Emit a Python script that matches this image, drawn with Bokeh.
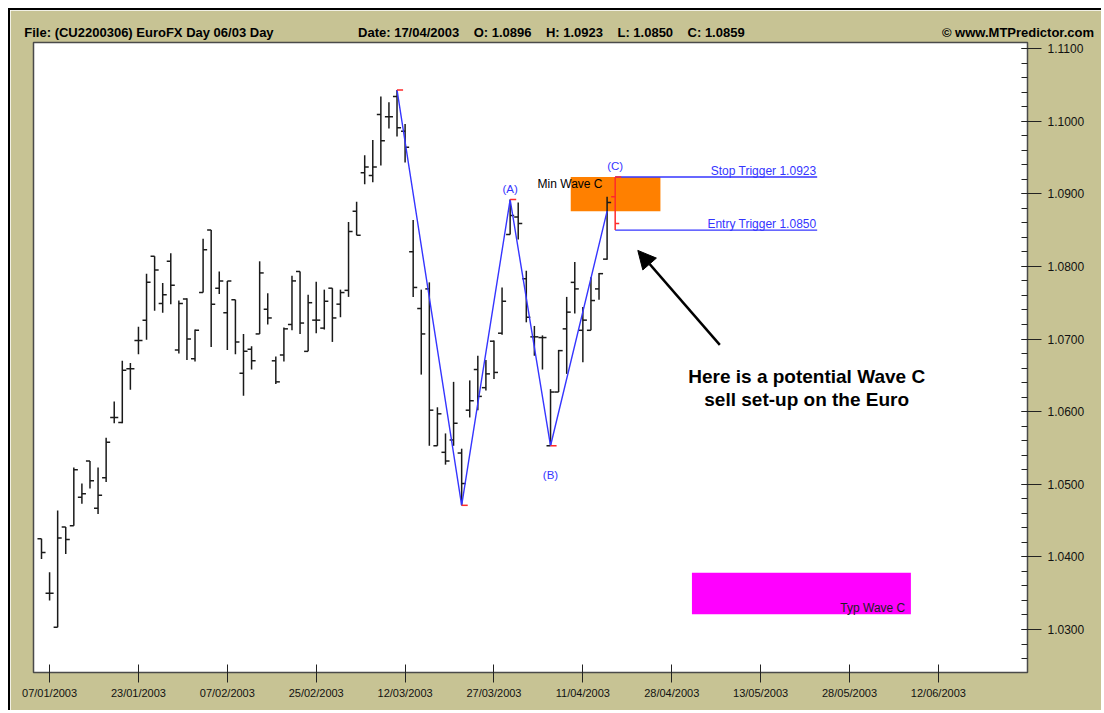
import numpy as np
from bokeh.plotting import figure
from bokeh.models import (Range1d, FixedTicker, SingleIntervalTicker, NumeralTickFormatter,
                          Label, Arrow, NormalHead, LinearAxis)
from bokeh.embed import file_html
from bokeh.resources import INLINE

# ---------------- data (EuroFX daily bars, 06/01/2003 .. 17/04/2003) ----------------
opens = [1.0425, 1.0350, 1.0303, 1.0441, 1.0443, 1.0482, 1.0532, 1.0467, 1.0509, 1.0592,
         1.0585, 1.0659, 1.0698, 1.0726, 1.0814, 1.0749, 1.0807, 1.0685, 1.0755, 1.0673,
         1.0764, 1.0850, 1.0770, 1.0736, 1.0754, 1.0653, 1.0686, 1.0707, 1.0741, 1.0670,
         1.0678, 1.0720, 1.0793, 1.0683, 1.0726, 1.0715, 1.0770, 1.0748, 1.0767, 1.0876,
         1.0929, 1.0925, 1.1009, 1.1006, 1.1034, 1.0986, 1.0820, 1.0742, 1.0769, 1.0553,
         1.0544, 1.0561, 1.0543, 1.0602, 1.0658, 1.0633, 1.0697, 1.0708, 1.0844, 1.0868,
         1.0783, 1.0703, 1.0702, 1.0553, 1.0627, 1.0714, 1.0778, 1.0712, 1.0712, 1.0769,
         1.0810, 1.0896]
highs = [1.0425, 1.0379, 1.0464, 1.0441, 1.0523, 1.0501, 1.0532, 1.0523, 1.0564, 1.0614,
         1.0670, 1.0667, 1.0717, 1.0790, 1.0814, 1.0777, 1.0818, 1.0753, 1.0756, 1.0713,
         1.0838, 1.0850, 1.0793, 1.0780, 1.0754, 1.0707, 1.0690, 1.0807, 1.0763, 1.0676,
         1.0716, 1.0787, 1.0793, 1.0761, 1.0779, 1.0768, 1.0770, 1.0768, 1.0861, 1.0889,
         1.0953, 1.0974, 1.1034, 1.1026, 1.1043, 1.0996, 1.0864, 1.0768, 1.0778, 1.0606,
         1.0570, 1.0641, 1.0549, 1.0643, 1.0677, 1.0671, 1.0698, 1.0771, 1.0892, 1.0888,
         1.0794, 1.0718, 1.0705, 1.0631, 1.0685, 1.0758, 1.0806, 1.0744, 1.0785, 1.0791,
         1.0896, 1.0923]
lows = [1.0397, 1.0340, 1.0303, 1.0404, 1.0443, 1.0473, 1.0494, 1.0459, 1.0503, 1.0584,
        1.0584, 1.0630, 1.0679, 1.0699, 1.0739, 1.0736, 1.0748, 1.0680, 1.0671, 1.0669,
        1.0764, 1.0689, 1.0762, 1.0685, 1.0679, 1.0622, 1.0658, 1.0707, 1.0720, 1.0638,
        1.0669, 1.0712, 1.0707, 1.0683, 1.0708, 1.0713, 1.0696, 1.0730, 1.0758, 1.0843,
        1.0913, 1.0916, 1.0939, 1.0990, 1.0979, 1.0943, 1.0758, 1.0651, 1.0553, 1.0553,
        1.0527, 1.0553, 1.0471, 1.0592, 1.0602, 1.0629, 1.0645, 1.0706, 1.0844, 1.0837,
        1.0723, 1.0677, 1.0658, 1.0553, 1.0627, 1.0652, 1.0735, 1.0668, 1.0712, 1.0754,
        1.0809, 1.0850]
closes = [1.0406, 1.0350, 1.0426, 1.0424, 1.0520, 1.0487, 1.0505, 1.0485, 1.0558, 1.0592,
          1.0657, 1.0659, 1.0698, 1.0778, 1.0795, 1.0761, 1.0774, 1.0749, 1.0700, 1.0712,
          1.0823, 1.0748, 1.0780, 1.0780, 1.0696, 1.0683, 1.0670, 1.0791, 1.0729, 1.0641,
          1.0714, 1.0780, 1.0722, 1.0750, 1.0726, 1.0752, 1.0729, 1.0764, 1.0848, 1.0843,
          1.0937, 1.0937, 1.0973, 1.1006, 1.0991, 1.0964, 1.0771, 1.0707, 1.0602, 1.0597,
          1.0532, 1.0584, 1.0501, 1.0615, 1.0621, 1.0652, 1.0654, 1.0752, 1.0870, 1.0859,
          1.0730, 1.0703, 1.0702, 1.0627, 1.0684, 1.0737, 1.0769, 1.0726, 1.0753, 1.0790,
          1.0888, 1.0859]

# bar index of each x-axis date label
tick_index = [1, 12, 23, 34, 45, 56, 67, 78, 89, 100, 111]
tick_labels = ["07/01/2003", "23/01/2003", "07/02/2003", "25/02/2003", "12/03/2003",
               "27/03/2003", "11/04/2003", "28/04/2003", "13/05/2003", "28/05/2003",
               "12/06/2003"]

# ABC wave pivots (bar index) and labels
pivot_index = [44, 52, 58, 63]
pivot_kind = ["high", "low", "high", "low"]
pivot_names = ["", "", "(A)", "(B)"]
wave_end_index = 70

# trade levels
stop_trigger = 1.0923
entry_trigger = 1.0850
min_wave_c = [1.0876, 1.0923]          # bottom, top of "Min Wave C" zone
min_wave_c_bars = [65.5, 76.6]
typ_wave_c = [1.0321, 1.0378]          # bottom, top of "Typ Wave C" zone
typ_wave_c_bars = [80.5, 107.6]
trigger_bars = [71, 96]

NB = "\u00a0" * 4
header_texts = ["File: (CU2200306) EuroFX Day 06/03 Day",
                "Date: 17/04/2003" + NB + "O: 1.0896" + NB + "H: 1.0923" + NB + "L: 1.0850" + NB + "C: 1.0859",
                "\u00a9 www.MTPredictor.com"]
header_centers = [13.3, 63.1, 120.85]

# ---------------- styling ----------------
TAN = "#C7C394"
BAR = "#1a1a1a"
BLUE = "#3535FF"
RED = "#FF2A2A"
FONT = "Liberation Sans"

n = len(opens)
idx = np.arange(n)
last = n - 1
hist = idx[:-1]

p = figure(width=1093, height=702, output_backend="svg", toolbar_location=None,
           x_range=Range1d(-0.99, 122.03), y_range=Range1d(1.02408, 1.11083),
           y_axis_location="right", background_fill_color="white",
           border_fill_color=TAN, min_border_left=23, min_border_right=76,
           min_border_top=32, min_border_bottom=40)
p.styles = {"margin-left": "8px", "margin-top": "8px",
            "border-top": "2px solid #000", "border-left": "2px solid #000"}
p.xgrid.visible = False
p.ygrid.visible = False
p.outline_line_color = "#4a4a4a"
p.outline_line_width = 1.5

# axes
p.yaxis.ticker = SingleIntervalTicker(interval=0.01, num_minor_ticks=5)
p.yaxis.formatter = NumeralTickFormatter(format="0.0000")
p.yaxis.major_tick_in = 6
p.yaxis.major_tick_out = 14
p.yaxis.minor_tick_in = 6
p.yaxis.minor_tick_out = 0
p.yaxis.major_label_standoff = 6
p.yaxis.major_label_text_font = FONT
p.yaxis.major_label_text_font_size = "12px"
p.yaxis.major_label_text_color = "#111111"
p.yaxis.axis_line_color = "#4a4a4a"
p.yaxis.major_tick_line_color = "#222222"
p.yaxis.minor_tick_line_color = "#222222"

p.xaxis.ticker = FixedTicker(ticks=tick_index, minor_ticks=[])
p.xaxis.major_label_overrides = {t: lab for t, lab in zip(tick_index, tick_labels)}
p.xaxis.major_tick_in = 8
p.xaxis.major_tick_out = 10
p.xaxis.minor_tick_line_color = None
p.xaxis.major_label_standoff = 4
p.xaxis.major_label_text_font = FONT
p.xaxis.major_label_text_font_size = "11px"
p.xaxis.major_label_text_color = "#111111"
p.xaxis.axis_line_color = "#4a4a4a"
p.xaxis.major_tick_line_color = "#222222"

# header line, drawn as an unlined axis above the frame
head = LinearAxis(ticker=FixedTicker(ticks=header_centers, minor_ticks=[]),
                  major_label_overrides={c: t for c, t in zip(header_centers, header_texts)},
                  axis_line_color=None, major_tick_line_color=None, minor_tick_line_color=None,
                  major_tick_in=0, major_tick_out=0, major_label_standoff=3,
                  major_label_text_font=FONT, major_label_text_font_size="13px",
                  major_label_text_font_style="bold", major_label_text_color="black")
p.add_layout(head, "above")

# zones (beneath bars)
p.quad(left=[min_wave_c_bars[0]], right=[min_wave_c_bars[1]], bottom=[min_wave_c[0]],
       top=[min_wave_c[1]], fill_color="#FF8000", line_color=None)
p.quad(left=[typ_wave_c_bars[0]], right=[typ_wave_c_bars[1]], bottom=[typ_wave_c[0]],
       top=[typ_wave_c[1]], fill_color="#FF00FF", line_color=None)

# OHLC bars (history black, last bar red)
o = np.array(opens); h = np.array(highs); l = np.array(lows); c = np.array(closes)
p.segment(x0=hist, y0=l[:-1], x1=hist, y1=h[:-1], line_color=BAR, line_width=1.5)
p.segment(x0=hist - 0.5, y0=o[:-1], x1=hist, y1=o[:-1], line_color=BAR, line_width=1.5)
p.segment(x0=hist, y0=c[:-1], x1=hist + 0.5, y1=c[:-1], line_color=BAR, line_width=1.5)

# wave zigzag
zz_x = list(pivot_index) + [wave_end_index]
zz_y = [highs[i] if k == "high" else lows[i] for i, k in zip(pivot_index, pivot_kind)] + [min_wave_c[0]]
p.line(zz_x, zz_y, line_color=BLUE, line_width=1.4)

# red pivot markers
pv_y = zz_y[:-1]
p.segment(x0=np.array(pivot_index), y0=pv_y, x1=np.array(pivot_index) + 0.75, y1=pv_y,
          line_color=RED, line_width=1.5)

# trigger lines
p.segment(x0=[trigger_bars[0]] * 2, y0=[stop_trigger, entry_trigger],
          x1=[trigger_bars[1]] * 2, y1=[stop_trigger, entry_trigger],
          line_color=BLUE, line_width=1.4)

# last bar in red
p.segment(x0=[last], y0=[lows[last]], x1=[last], y1=[highs[last]], line_color=RED, line_width=1.5)
p.segment(x0=[last - 0.5], y0=[opens[last]], x1=[last], y1=[opens[last]], line_color=RED, line_width=1.5)
p.segment(x0=[last], y0=[closes[last]], x1=[last + 0.5], y1=[closes[last]], line_color=RED, line_width=1.5)
p.segment(x0=[last], y0=[highs[last]], x1=[last + 0.75], y1=[highs[last]], line_color=RED, line_width=1.5)

# ---------------- texts ----------------
def lab(x, y, text, color="black", size="12px", align="left", base="middle", style="normal"):
    p.add_layout(Label(x=x, y=y, text=text, text_color=color, text_font=FONT,
                       text_font_size=size, text_align=align, text_baseline=base,
                       text_font_style=style))

lab(pivot_index[2], 1.0907, pivot_names[2], color=BLUE, align="center", size="11.5px")
lab(pivot_index[3], 1.0513, pivot_names[3], color=BLUE, align="center", size="11.5px")
lab(last, 1.0938, "(C)", color=BLUE, align="center", size="11.5px")
lab(61.4, 1.0913, "Min Wave C")
lab(95.9, 1.0931, "Stop Trigger %.4f" % stop_trigger, color=BLUE, align="right", base="alphabetic")
lab(95.9, 1.0858, "Entry Trigger %.4f" % entry_trigger, color=BLUE, align="right", base="alphabetic")
lab(106.9, 1.0330, "Typ Wave C", color="#202020", align="right")
lab(94.7, 1.0648, "Here is a potential Wave C", size="19px", align="center", style="bold")
lab(94.7, 1.0617, "sell set-up on the Euro", size="19px", align="center", style="bold")

p.add_layout(Arrow(end=NormalHead(size=18, fill_color="black", line_color="black"),
                   x_start=83.95, y_start=1.0692, x_end=73.8, y_end=1.0822,
                   line_color="black", line_width=2.5))

open("out.html", "w").write(file_html(p, INLINE))
